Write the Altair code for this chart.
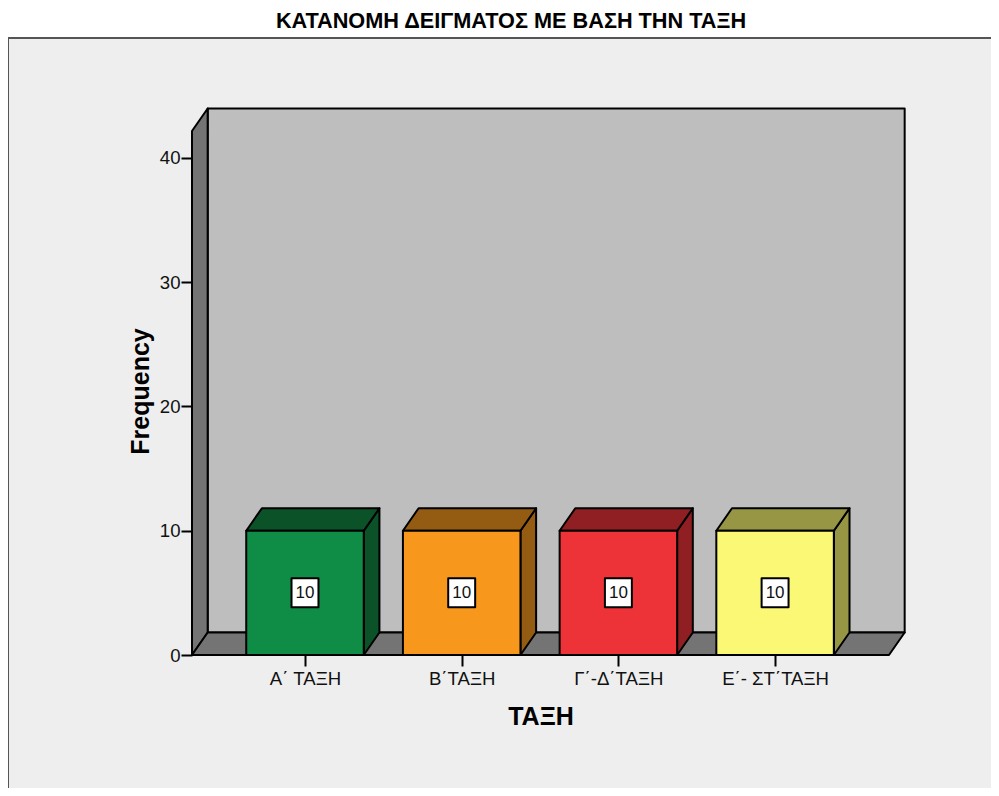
import altair as alt
import pandas as pd

title = "ΚΑΤΑΝΟΜΗ ΔΕΙΓΜΑΤΟΣ ΜΕ ΒΑΣΗ ΤΗΝ ΤΑΞΗ"
categories = ["Α΄ ΤΑΞΗ", "Β΄ΤΑΞΗ", "Γ΄-Δ΄ΤΑΞΗ", "Ε΄- ΣΤ΄ΤΑΞΗ"]
values = [10, 10, 10, 10]
front_colors = ["#0F8C46", "#F7981D", "#EE3338", "#FAF874"]
dark_colors = ["#0B5229", "#945B12", "#8F1F22", "#969645"]
y_ticks = [0, 10, 20, 30, 40]

XMIN, XMAX = -0.7211, 3.727
YMIN, YMAX = 0, 42.17
DX, DY = 0.1, 1.81
HALF = 0.375
BOX_W, BOX_H = 0.086, 1.167
FONT = "Liberation Sans"

W, H = 697, 524
xs = alt.Scale(domain=[XMIN, XMAX], nice=False, zero=False)
ys = alt.Scale(domain=[YMIN, YMAX], nice=False, zero=False)

cat_expr = "[" + ",".join(f"'{c}'" for c in categories) + "][datum.value]"
x_axis = alt.Axis(
    title="ΤΑΞΗ",
    values=[0, 1, 2, 3], labelExpr=cat_expr, grid=False, domain=False, zindex=1,
    tickColor="black", tickWidth=2, tickSize=11, labelFont=FONT, labelFontSize=18.6,
    labelColor="#111111", labelPadding=3, labelFlush=False, labelOverlap=False,
    titleFont=FONT, titleFontSize=25, titleFontWeight="bold", titleColor="black", titlePadding=17,
)
y_axis = alt.Axis(
    title="Frequency",
    values=y_ticks, grid=False, domain=False, zindex=1,
    tickColor="black", tickWidth=2, tickSize=11, labelFont=FONT, labelFontSize=18.6,
    labelColor="#111111", labelPadding=1,
    titleFont=FONT, titleFontSize=25, titleFontWeight="bold", titleColor="black", titlePadding=6,
    titleY=260,
)

def X(f="x"):
    return alt.X(f"{f}:Q", scale=xs, axis=x_axis)

def Y(f="y"):
    return alt.Y(f"{f}:Q", scale=ys, axis=y_axis)

line = dict(stroke="black", strokeWidth=2, strokeJoin="round")

# Panel behind everything (decoration, pixel placed)
panel = alt.Chart(pd.DataFrame({"a": [0]})).mark_rect(
    fill="#EEEEEE", stroke="#555555", strokeWidth=2
).encode(x=alt.value(-184), x2=alt.value(830), y=alt.value(-93), y2=alt.value(680))

wall_df = pd.DataFrame({"x": [XMIN + DX], "x2": [XMAX + DX], "y": [YMIN + DY], "y2": [YMAX + DY]})
back_wall = alt.Chart(wall_df).mark_rect(fill="#BEBEBE", **line).encode(
    x=X(), x2="x2:Q", y=Y(), y2="y2:Q"
)

left_df = pd.DataFrame({"x": [XMIN, XMIN + DX], "y": [YMIN, YMIN + DY], "y2": [YMAX, YMAX + DY]})
left_wall = alt.Chart(left_df).mark_area(fill="#747474", orient="vertical", **line).encode(
    x=X(), y=Y(), y2="y2:Q"
)

floor_df = pd.DataFrame({"y": [YMIN, YMIN + DY], "x": [XMIN, XMIN + DX], "x2": [XMAX, XMAX + DX]})
floor = alt.Chart(floor_df).mark_area(fill="#747474", orient="horizontal", **line).encode(
    y=Y(), x=X(), x2="x2:Q"
)

side_rows, top_rows, front_rows, label_rows = [], [], [], []
for i, (c, v, f, d) in enumerate(zip(categories, values, front_colors, dark_colors)):
    l, r = i - HALF, i + HALF
    side_rows += [
        {"cat": c, "fill": d, "x": r, "y": 0, "y2": v},
        {"cat": c, "fill": d, "x": r + DX, "y": DY, "y2": v + DY},
    ]
    top_rows += [
        {"cat": c, "fill": d, "y": v, "x": l, "x2": r},
        {"cat": c, "fill": d, "y": v + DY, "x": l + DX, "x2": r + DX},
    ]
    front_rows.append({"cat": c, "fill": f, "x": l, "x2": r, "y": 0, "y2": v})
    label_rows.append({
        "cat": c, "label": str(v), "xc": i, "yc": v / 2,
        "x": i - BOX_W, "x2": i + BOX_W, "y": v / 2 - BOX_H, "y2": v / 2 + BOX_H,
    })

bar_side = alt.Chart(pd.DataFrame(side_rows)).mark_area(orient="vertical", **line).encode(
    x=X(), y=Y(), y2="y2:Q", fill=alt.Fill("fill:N", scale=None), detail="cat:N"
)
bar_top = alt.Chart(pd.DataFrame(top_rows)).mark_area(orient="horizontal", **line).encode(
    y=Y(), x=X(), x2="x2:Q", fill=alt.Fill("fill:N", scale=None), detail="cat:N"
)
bar_front = alt.Chart(pd.DataFrame(front_rows)).mark_rect(**line).encode(
    x=X(), x2="x2:Q", y=Y(), y2="y2:Q", fill=alt.Fill("fill:N", scale=None)
)

label_df = pd.DataFrame(label_rows)
label_box = alt.Chart(label_df).mark_rect(fill="white", **line).encode(
    x=X(), x2="x2:Q", y=Y(), y2="y2:Q"
)
label_text = alt.Chart(label_df).mark_text(
    font=FONT, fontSize=17, color="#111111", align="center", baseline="middle"
).encode(x=X("xc"), y=Y("yc"), text="label:N")

chart = alt.layer(
    panel, back_wall, left_wall, floor, bar_side, bar_top, bar_front, label_box, label_text
).properties(
    width=W, height=H,
    title=alt.TitleParams(
        title, font=FONT, fontSize=21.7, fontWeight="bold", color="black",
        anchor="middle", dx=-29.5, offset=4,
    ),
    padding={"left": 184, "top": 123, "right": 102, "bottom": 133},
    autosize=alt.AutoSizeParams(type="none"),
    background="white",
).configure_view(stroke=None)

chart.save("out.html", embed_options={"renderer": "svg", "actions": False})
